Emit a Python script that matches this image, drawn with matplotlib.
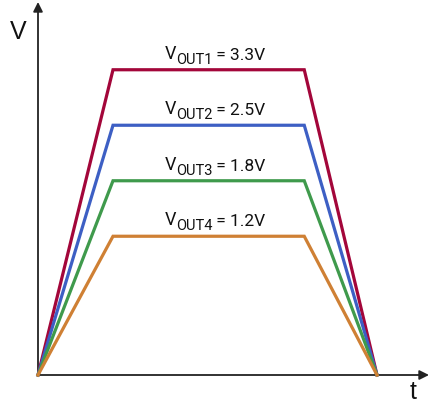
import matplotlib
matplotlib.use("Agg")
import matplotlib.pyplot as plt

# schematic power sequencing: time points of the trapezoid and plateau heights (drawing units)
t_points = [0.0, 1.0, 3.55, 4.52]
levels = [5.5, 4.5, 3.5, 2.5]
names = ["OUT1", "OUT2", "OUT3", "OUT4"]
volts = ["3.3V", "2.5V", "1.8V", "1.2V"]
colors = ["#a3063a", "#3d5fc4", "#3f9a4c", "#cf8034"]

label_font = ['Roboto', 'DejaVu Sans']
txt_color = '#111111'

W, H = 429, 403
fig = plt.figure(figsize=(W / 100, H / 100), dpi=100)
x0, y0 = 38, 375
ax = fig.add_axes([x0 / W, (H - y0) / H, (W - x0) / W, (y0 - 2) / H])
ax.set_xlim(0, (W - x0) / 75.0)
ax.set_ylim(0, (y0 - 2) / 55.5)
ax.axis('off')

# axes arrows
ax.annotate('', xy=(1.0, 0), xytext=(0, 0), xycoords='axes fraction',
            arrowprops=dict(arrowstyle='-|>', color='#222222', lw=1.3,
                            mutation_scale=14, shrinkA=0, shrinkB=0))
ax.annotate('', xy=(0, 1.0), xytext=(0, 0), xycoords='axes fraction',
            arrowprops=dict(arrowstyle='-|>', color='#222222', lw=1.3,
                            mutation_scale=14, shrinkA=0, shrinkB=0))

label_x = 1.69
for lev, name, v, c in zip(levels, names, volts, colors):
    ax.plot(t_points, [0, lev, lev, 0], color=c, lw=2.3,
            solid_joinstyle='miter', clip_on=False, zorder=3)
    # V + subscript + value, chained one after another
    a1 = ax.annotate('V', xy=(label_x, lev), xytext=(0, 8), textcoords='offset points',
                     ha='left', va='baseline', fontsize=13, family=label_font,
                     color=txt_color)
    a2 = ax.annotate(name, xy=(1, 0), xycoords=a1, xytext=(0.2, -3),
                     textcoords='offset points', ha='left', va='bottom',
                     fontsize=10.5, family=label_font, color=txt_color)
    ax.annotate(' = ' + v, xy=(1, 0), xycoords=a2, xytext=(-0.5, 3),
                textcoords='offset points', ha='left', va='bottom',
                fontsize=12.5, family=label_font, color=txt_color)

fig.text(18 / W, 1 - 32 / H, 'V', fontsize=18, ha='center', va='center',
         family=['Liberation Sans', 'DejaVu Sans'], color=txt_color)
fig.text(413 / W, 1 - 392 / H, 't', fontsize=18, ha='center', va='center',
         family=['Liberation Sans', 'DejaVu Sans'], color=txt_color)

fig.savefig('out.png', dpi=100)
